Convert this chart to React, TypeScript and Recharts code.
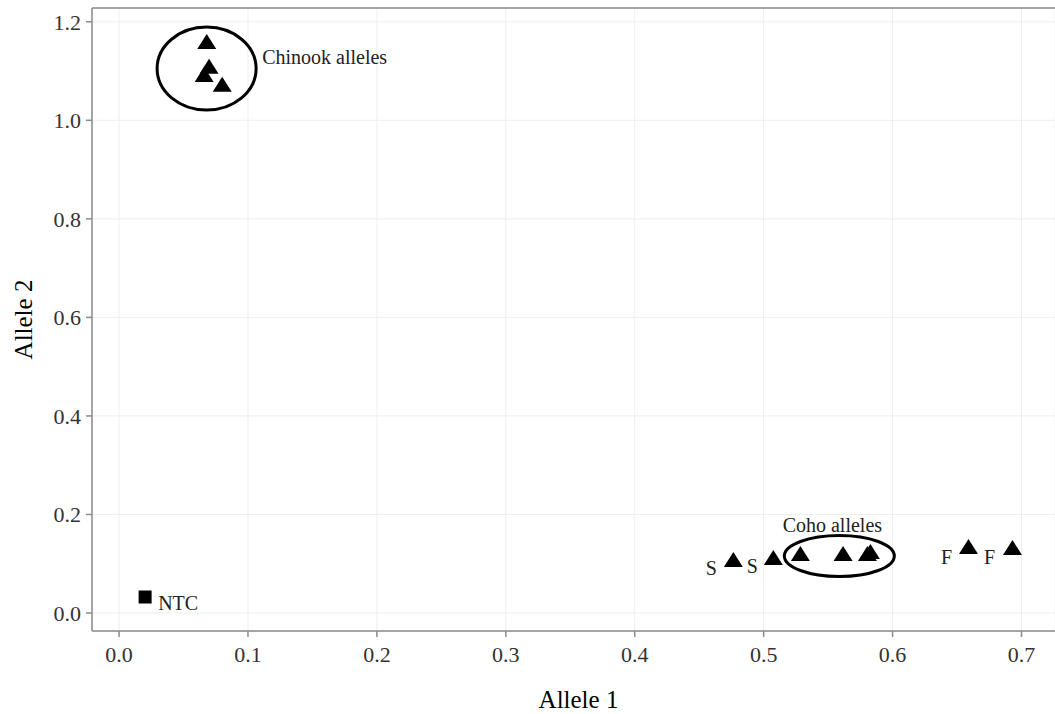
import React from 'react';
import { ScatterChart, Scatter, XAxis, YAxis, CartesianGrid, ReferenceLine } from 'recharts';

// Allele 1 / Allele 2 fluorescence values
const chinookAllele1 = [0.068, 0.0698, 0.066, 0.080];
const chinookAllele2 = [1.159, 1.109, 1.092, 1.072];
const cohoAllele1 = [0.4765, 0.5075, 0.5285, 0.5616, 0.5828, 0.5805, 0.6589, 0.693];
const cohoAllele2 = [0.1076, 0.1117, 0.120, 0.120, 0.124, 0.120, 0.134, 0.132];
const ntcAllele1 = [0.0202];
const ntcAllele2 = [0.0325];

// ellipse centres (data units)
const chinookEllipse = { x: 0.0679, y: 1.105 };
const cohoEllipse = { x: 0.5587, y: 0.1157 };

// annotation texts and anchors
const annoText = ['Chinook alleles', 'Coho alleles', 'S', 'S', 'F', 'F', 'NTC'];
const annoX = [0.111, 0.5533, 0.4594, 0.4912, 0.6418, 0.6752, 0.0303];
const annoY = [1.129, 0.1787, 0.0914, 0.0954, 0.1137, 0.1137, 0.0203];
const annoAnchor = ['start', 'middle', 'middle', 'middle', 'middle', 'middle', 'start'];

const xTicks = [0, 0.1, 0.2, 0.3, 0.4, 0.5, 0.6, 0.7];
const yTicks = [0, 0.2, 0.4, 0.6, 0.8, 1.0, 1.2];
const xDomain: [number, number] = [-0.021, 0.726];
const yDomain: [number, number] = [-0.0365, 1.228];

const zip = (xs: number[], ys: number[]) => xs.map((x, i) => ({ x, y: ys[i] }));
const trianglePts = [...zip(chinookAllele1, chinookAllele2), ...zip(cohoAllele1, cohoAllele2)];
const ntcPts = zip(ntcAllele1, ntcAllele2);
const annoPts = annoText.map((t, i) => ({ x: annoX[i], y: annoY[i], label: t, anchor: annoAnchor[i] }));

const FONT = '"Liberation Serif", "Times New Roman", serif';
const AXIS_GRAY = '#8a8a8a';

const Triangle = (p: any) => (
  <polygon
    points={`${p.cx},${p.cy - 8} ${p.cx - 9.5},${p.cy + 7} ${p.cx + 9.5},${p.cy + 7}`}
    fill="#000"
  />
);
const Square = (p: any) => <rect x={p.cx - 6.5} y={p.cy - 6.5} width={13} height={13} fill="#000" />;
const EllipseShape = (rx: number, ry: number) => (p: any) => (
  <ellipse cx={p.cx} cy={p.cy} rx={rx} ry={ry} fill="none" stroke="#000" strokeWidth={3} />
);
const AnnoShape = (p: any) => (
  <text
    x={p.cx}
    y={p.cy}
    textAnchor={p.payload.anchor}
    dominantBaseline="central"
    fontFamily={FONT}
    fontSize={20}
    fill="#222"
  >
    {p.payload.label}
  </text>
);

const YLabel = (props: any) => {
  const vb = props.viewBox;
  const x = vb.x + 15;
  const y = vb.y + vb.height / 2;
  return (
    <text x={x} y={y} transform={`rotate(-90, ${x}, ${y})`} textAnchor="middle" dominantBaseline="central"
      fontFamily={FONT} fontSize={25} fill="#000">Allele 2</text>
  );
};

const XLabel = (props: any) => {
  const vb = props.viewBox;
  const x = vb.x + vb.width / 2 + 5;
  const y = vb.y + vb.height - 15;
  return (
    <text x={x} y={y} textAnchor="middle" dominantBaseline="central"
      fontFamily={FONT} fontSize={25} fill="#000">Allele 1</text>
  );
};

export default function App() {
  return (
    <div style={{ width: 1055, height: 714, overflow: 'hidden' }}>
      <style>{`html, body { margin: 0; padding: 0; overflow: hidden; }`}</style>
      <ScatterChart width={1055} height={714} margin={{ top: 8, right: 0, bottom: 0, left: 8 }}>
        <CartesianGrid stroke="#eeeeee" strokeWidth={1} />
        <XAxis
          type="number"
          dataKey="x"
          domain={xDomain}
          ticks={xTicks}
          allowDataOverflow
          height={83}
          tickSize={6}
          tickMargin={9}
          tickFormatter={(v: number) => v.toFixed(1)}
          tick={{ fontFamily: FONT, fontSize: 22, fill: '#333' }}
          axisLine={{ stroke: AXIS_GRAY, strokeWidth: 1.5 }}
          tickLine={{ stroke: AXIS_GRAY, strokeWidth: 1.5 }}
          label={<XLabel />}
        />
        <YAxis
          type="number"
          dataKey="y"
          domain={yDomain}
          ticks={yTicks}
          allowDataOverflow
          width={84}
          tickSize={6}
          tickMargin={5}
          tickFormatter={(v: number) => v.toFixed(1)}
          tick={{ fontFamily: FONT, fontSize: 22, fill: '#333' }}
          axisLine={{ stroke: AXIS_GRAY, strokeWidth: 1.5 }}
          tickLine={{ stroke: AXIS_GRAY, strokeWidth: 1.5 }}
          label={<YLabel />}
        />
        <ReferenceLine y={yDomain[1]} stroke={AXIS_GRAY} strokeWidth={1.5} />
        <Scatter data={trianglePts} shape={Triangle} isAnimationActive={false} />
        <Scatter data={ntcPts} shape={Square} isAnimationActive={false} />
        <Scatter data={[chinookEllipse]} shape={EllipseShape(49.5, 41.5)} isAnimationActive={false} />
        <Scatter data={[cohoEllipse]} shape={EllipseShape(55, 20.5)} isAnimationActive={false} />
        <Scatter data={annoPts} shape={AnnoShape} isAnimationActive={false} />
      </ScatterChart>
    </div>
  );
}
